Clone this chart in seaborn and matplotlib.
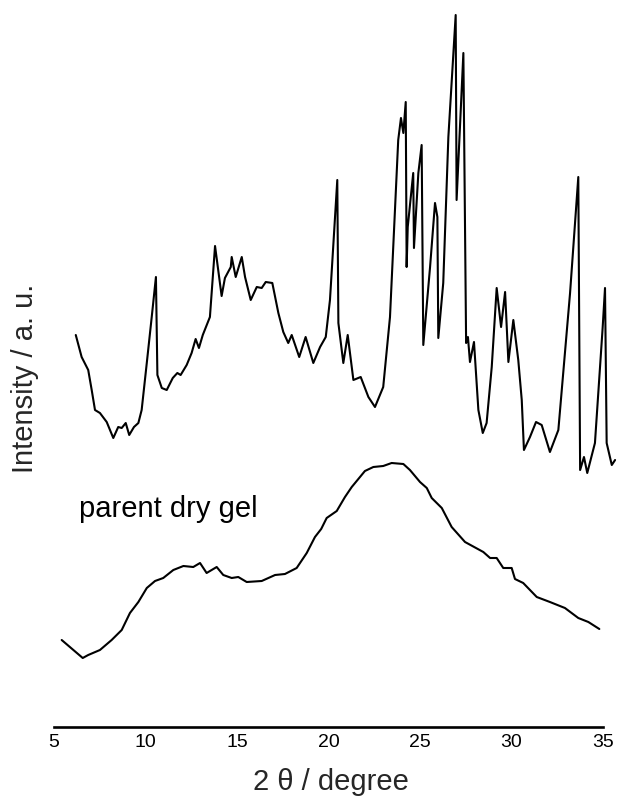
import matplotlib
matplotlib.use("Agg")
import matplotlib.pyplot as plt
import seaborn as sns
import pandas as pd

# Diffraction pattern of the crystallized product (stacked above the gel trace)
product_2theta = [
    6.19, 6.51, 6.87, 7.06, 7.24, 7.51, 7.88, 8.24, 8.51, 8.70,
    8.92, 9.11, 9.37, 9.61, 9.79, 10.07, 10.34, 10.57, 10.65, 10.89,
    11.16, 11.49, 11.74, 11.92, 12.25, 12.52, 12.74, 12.92, 13.13, 13.52,
    13.80, 14.16, 14.34, 14.66, 14.71, 14.93, 15.26, 15.44, 15.75, 16.08,
    16.35, 16.57, 16.93, 17.26, 17.53, 17.80, 17.99, 18.40, 18.75, 19.17,
    19.54, 19.85, 20.08, 20.48, 20.54, 20.81, 21.05, 21.36, 21.76, 22.18,
    22.54, 22.99, 23.36, 23.81, 23.96, 24.09, 24.22, 24.27, 24.33, 24.63,
    24.67, 24.91, 25.09, 25.18, 25.55, 25.82, 25.95, 26.00, 26.27, 26.55,
    26.95, 27.00, 27.37, 27.52, 27.62, 27.73, 27.95, 28.19, 28.43, 28.64,
    28.92, 29.19, 29.43, 29.65, 29.83, 30.10, 30.37, 30.56, 30.68, 31.01,
    31.34, 31.65, 32.10, 32.56, 33.20, 33.65, 33.75, 33.96, 34.14, 34.56,
    34.98, 35.11, 35.20, 35.48, 35.66,
]
product_intensity = [
    394, 372, 359, 339, 319, 316, 307, 291, 302, 301,
    306, 294, 302, 306, 319, 366, 412, 452, 354, 341,
    339, 351, 356, 354, 364, 376, 390, 381, 394, 412,
    483, 433, 451, 462, 472, 452, 472, 452, 429, 442,
    441, 447, 446, 416, 397, 386, 394, 372, 392, 366,
    382, 392, 429, 549, 406, 366, 394, 349, 352, 332,
    322, 342, 412, 589, 611, 596, 627, 462, 502, 556,
    481, 556, 584, 384, 462, 526, 512, 391, 446, 592,
    714, 529, 676, 386, 392, 367, 387, 319, 296, 306,
    362, 441, 402, 437, 367, 409, 369, 329, 279, 292,
    307, 304, 277, 299, 436, 552, 259, 272, 256, 286,
    401, 441, 286, 264, 269,
]

# Amorphous parent dry gel
gel_2theta = [
    5.42, 6.57, 6.87, 7.51, 8.15, 8.70, 9.15, 9.61, 10.07, 10.52,
    10.97, 11.52, 12.07, 12.61, 12.98, 13.34, 13.89, 14.25, 14.71, 15.07,
    15.53, 16.35, 17.08, 17.62, 18.26, 18.81, 19.26, 19.60, 19.90, 20.45,
    20.90, 21.27, 21.99, 22.45, 22.99, 23.45, 24.09, 24.45, 25.00, 25.37,
    25.64, 26.19, 26.73, 27.46, 28.46, 28.83, 29.19, 29.55, 30.01, 30.19,
    30.64, 31.38, 32.10, 32.92, 33.65, 34.20, 34.80,
]
gel_intensity = [
    89, 71, 74, 79, 89, 99, 116, 127, 141, 148,
    151, 159, 163, 162, 166, 156, 162, 154, 151, 152,
    147, 148, 154, 155, 161, 176, 192, 200, 211, 218,
    232, 242, 258, 262, 263, 266, 265, 259, 247, 241,
    231, 221, 202, 187, 177, 171, 171, 161, 161, 150,
    146, 132, 127, 121, 111, 107, 100,
]

tick_values = [5, 10, 15, 20, 25, 30, 35]
tick_labels = ["5", "10", "15", "20", "25", "30", "35"]
gel_label = "parent dry gel"
x_label = "2 θ / degree"
y_label = "Intensity / a. u."

sns.set_style("white")
plt.rcParams["font.family"] = ["Liberation Sans", "DejaVu Sans"]

W, H = 617, 800
fig = plt.figure(figsize=(W / 100, H / 100), dpi=100)

px_per_deg = 18.3
x0_px, axis_px = 54, 727
ax = fig.add_axes([x0_px / W, (H - axis_px) / H, (W - x0_px) / W, axis_px / H])

product = pd.DataFrame({"two_theta": product_2theta, "intensity": product_intensity})
gel = pd.DataFrame({"two_theta": gel_2theta, "intensity": gel_intensity})

for df in (product, gel):
    sns.lineplot(data=df, x="two_theta", y="intensity", ax=ax, color="black",
                 linewidth=1.5, sort=False, estimator=None)

ax.set_xlim(5, 5 + (W - x0_px) / px_per_deg)
ax.set_ylim(2, axis_px + 2)

for side in ("left", "top", "right"):
    ax.spines[side].set_visible(False)
ax.spines["bottom"].set_bounds(5, 35)
ax.spines["bottom"].set_linewidth(1.9)
ax.spines["bottom"].set_color("black")

ax.set_xticks(tick_values)
ax.set_xticklabels(tick_labels)
ax.tick_params(axis="x", direction="in", length=12, width=1.9, pad=5,
               labelsize=14, colors="black")
ax.set_yticks([])
ax.set_xlabel("")
ax.set_ylabel("")

ax.text(6.37, 212, gel_label, fontsize=21, ha="left", va="baseline", color="black")

fig.text(331 / W, 1 - 790 / H, x_label, fontsize=21, ha="center", va="baseline")
fig.text(25 / W, 1 - 378 / H, y_label, fontsize=21, rotation=90,
         ha="center", va="center")

fig.savefig("out.png", dpi=100, facecolor="white")
